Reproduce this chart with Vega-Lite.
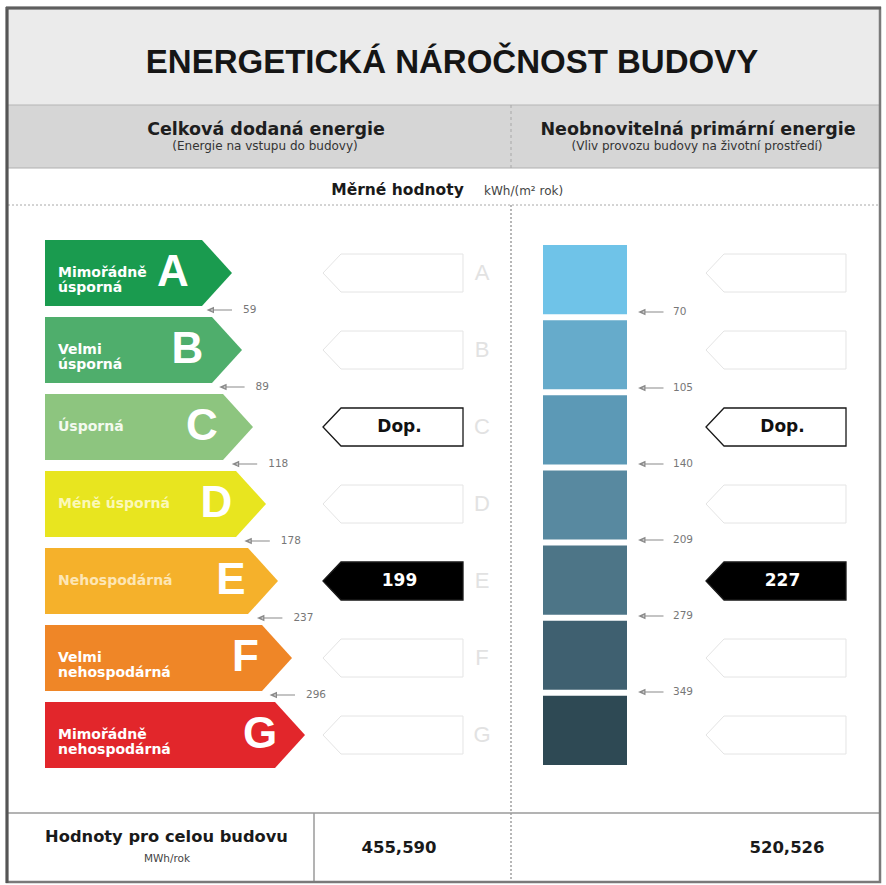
{
  "$schema": "https://vega.github.io/schema/vega-lite/v6.json",
  "width": 886,
  "height": 885,
  "padding": 0,
  "autosize": {"type": "none"},
  "background": "#ffffff",
  "config": {"view": {"stroke": null}, "axis": {"disable": true}, "legend": {"disable": true}},
  "datasets": {
    "classes": [
      {"class": "A", "label": "Mimořádně\núsporná"},
      {"class": "B", "label": "Velmi\núsporná"},
      {"class": "C", "label": "Úsporná"},
      {"class": "D", "label": "Méně úsporná"},
      {"class": "E", "label": "Nehospodárná"},
      {"class": "F", "label": "Velmi\nnehospodárná"},
      {"class": "G", "label": "Mimořádně\nnehospodárná"}
    ],
    "limits": [
      {"class": "A", "delivered": 59, "primary": 70},
      {"class": "B", "delivered": 89, "primary": 105},
      {"class": "C", "delivered": 118, "primary": 140},
      {"class": "D", "delivered": 178, "primary": 209},
      {"class": "E", "delivered": 237, "primary": 279},
      {"class": "F", "delivered": 296, "primary": 349}
    ],
    "ratings": [
      {"panel": "delivered", "class": "C", "kind": "reference", "text": "Dop."},
      {"panel": "delivered", "class": "E", "kind": "rating", "text": "199"},
      {"panel": "primary", "class": "C", "kind": "reference", "text": "Dop."},
      {"panel": "primary", "class": "E", "kind": "rating", "text": "227"}
    ],
    "totals": [
      {"panel": "delivered", "value": "455,590"},
      {"panel": "primary", "value": "520,526"}
    ]
  },
  "resolve": {"scale": {"x": "independent", "y": "independent", "color": "independent", "fill": "independent", "shape": "independent"}},
  "layer": [
    {
      "data": {"values": [{}]},
      "layer": [
        {"mark": {"type": "rect", "color": "#ebebeb"}, "encoding": {"x": {"datum": 8, "type": "quantitative", "scale": {"domain": [0, 886], "range": [0, 886], "nice": false, "zero": false}}, "x2": {"datum": 880}, "y": {"datum": 9, "type": "quantitative", "scale": {"domain": [0, 885], "range": [0, 885], "nice": false, "zero": false}}, "y2": {"datum": 105}}},
        {"mark": {"type": "rect", "color": "#d6d6d6"}, "encoding": {"x": {"datum": 8, "type": "quantitative", "scale": {"domain": [0, 886], "range": [0, 886], "nice": false, "zero": false}}, "x2": {"datum": 880}, "y": {"datum": 105, "type": "quantitative", "scale": {"domain": [0, 885], "range": [0, 885], "nice": false, "zero": false}}, "y2": {"datum": 168}}},
        {"mark": {"type": "rule", "color": "#b5b5b5", "strokeWidth": 1}, "encoding": {"x": {"datum": 8, "type": "quantitative", "scale": {"domain": [0, 886], "range": [0, 886], "nice": false, "zero": false}}, "x2": {"datum": 880}, "y": {"datum": 105, "type": "quantitative", "scale": {"domain": [0, 885], "range": [0, 885], "nice": false, "zero": false}}}},
        {"mark": {"type": "rule", "color": "#b0b0b0", "strokeWidth": 1}, "encoding": {"x": {"datum": 8, "type": "quantitative", "scale": {"domain": [0, 886], "range": [0, 886], "nice": false, "zero": false}}, "x2": {"datum": 880}, "y": {"datum": 168, "type": "quantitative", "scale": {"domain": [0, 885], "range": [0, 885], "nice": false, "zero": false}}}},
        {"mark": {"type": "rule", "color": "#a8a8a8", "strokeWidth": 1, "strokeDash": [2, 2]}, "encoding": {"x": {"datum": 8, "type": "quantitative", "scale": {"domain": [0, 886], "range": [0, 886], "nice": false, "zero": false}}, "x2": {"datum": 880}, "y": {"datum": 205, "type": "quantitative", "scale": {"domain": [0, 885], "range": [0, 885], "nice": false, "zero": false}}}},
        {"mark": {"type": "rule", "color": "#a8a8a8", "strokeWidth": 1, "strokeDash": [3, 3]}, "encoding": {"x": {"datum": 511, "type": "quantitative", "scale": {"domain": [0, 886], "range": [0, 886], "nice": false, "zero": false}}, "y": {"datum": 105, "type": "quantitative", "scale": {"domain": [0, 885], "range": [0, 885], "nice": false, "zero": false}}, "y2": {"datum": 168}}},
        {"mark": {"type": "rule", "color": "#a0a0a0", "strokeWidth": 1.5, "strokeDash": [2, 2]}, "encoding": {"x": {"datum": 511, "type": "quantitative", "scale": {"domain": [0, 886], "range": [0, 886], "nice": false, "zero": false}}, "y": {"datum": 205, "type": "quantitative", "scale": {"domain": [0, 885], "range": [0, 885], "nice": false, "zero": false}}, "y2": {"datum": 882}}},
        {"mark": {"type": "rule", "color": "#9a9a9a", "strokeWidth": 1.5}, "encoding": {"x": {"datum": 8, "type": "quantitative", "scale": {"domain": [0, 886], "range": [0, 886], "nice": false, "zero": false}}, "x2": {"datum": 880}, "y": {"datum": 813, "type": "quantitative", "scale": {"domain": [0, 885], "range": [0, 885], "nice": false, "zero": false}}}},
        {"mark": {"type": "rule", "color": "#9a9a9a", "strokeWidth": 1.5}, "encoding": {"x": {"datum": 314, "type": "quantitative", "scale": {"domain": [0, 886], "range": [0, 886], "nice": false, "zero": false}}, "y": {"datum": 813, "type": "quantitative", "scale": {"domain": [0, 885], "range": [0, 885], "nice": false, "zero": false}}, "y2": {"datum": 882}}},
        {"mark": {"type": "rect", "fillOpacity": 0, "stroke": "#7a7a7a", "strokeWidth": 2.5}, "encoding": {"x": {"datum": 7, "type": "quantitative", "scale": {"domain": [0, 886], "range": [0, 886], "nice": false, "zero": false}}, "x2": {"datum": 880}, "y": {"datum": 8, "type": "quantitative", "scale": {"domain": [0, 885], "range": [0, 885], "nice": false, "zero": false}}, "y2": {"datum": 882}}},
        {"mark": {"type": "rule", "color": "#555555", "strokeWidth": 3}, "encoding": {"x": {"datum": 7, "type": "quantitative", "scale": {"domain": [0, 886], "range": [0, 886], "nice": false, "zero": false}}, "y": {"datum": 7, "type": "quantitative", "scale": {"domain": [0, 885], "range": [0, 885], "nice": false, "zero": false}}, "y2": {"datum": 883}}},
        {"mark": {"type": "rule", "color": "#5e5e5e", "strokeWidth": 3}, "encoding": {"x": {"datum": 6, "type": "quantitative", "scale": {"domain": [0, 886], "range": [0, 886], "nice": false, "zero": false}}, "x2": {"datum": 881}, "y": {"datum": 8, "type": "quantitative", "scale": {"domain": [0, 885], "range": [0, 885], "nice": false, "zero": false}}}},
        {"mark": {"type": "text", "text": "ENERGETICKÁ NÁROČNOST BUDOVY", "font": "Liberation Sans", "fontWeight": "bold", "fontSize": 33, "align": "center", "baseline": "alphabetic", "color": "#151515"}, "encoding": {"x": {"datum": 452, "type": "quantitative", "scale": {"domain": [0, 886], "range": [0, 886], "nice": false, "zero": false}}, "y": {"datum": 73, "type": "quantitative", "scale": {"domain": [0, 885], "range": [0, 885], "nice": false, "zero": false}}}},
        {"mark": {"type": "text", "text": "Celková dodaná energie", "font": "DejaVu Sans", "fontWeight": "bold", "fontSize": 17.5, "align": "center", "baseline": "alphabetic", "color": "#1e1e1e"}, "encoding": {"x": {"datum": 266, "type": "quantitative", "scale": {"domain": [0, 886], "range": [0, 886], "nice": false, "zero": false}}, "y": {"datum": 134.5, "type": "quantitative", "scale": {"domain": [0, 885], "range": [0, 885], "nice": false, "zero": false}}}},
        {"mark": {"type": "text", "text": "(Energie na vstupu do budovy)", "font": "DejaVu Sans", "fontSize": 12, "align": "center", "baseline": "alphabetic", "color": "#333333"}, "encoding": {"x": {"datum": 265, "type": "quantitative", "scale": {"domain": [0, 886], "range": [0, 886], "nice": false, "zero": false}}, "y": {"datum": 150, "type": "quantitative", "scale": {"domain": [0, 885], "range": [0, 885], "nice": false, "zero": false}}}},
        {"mark": {"type": "text", "text": "Neobnovitelná primární energie", "font": "DejaVu Sans", "fontWeight": "bold", "fontSize": 17.5, "align": "center", "baseline": "alphabetic", "color": "#1e1e1e"}, "encoding": {"x": {"datum": 698, "type": "quantitative", "scale": {"domain": [0, 886], "range": [0, 886], "nice": false, "zero": false}}, "y": {"datum": 134.5, "type": "quantitative", "scale": {"domain": [0, 885], "range": [0, 885], "nice": false, "zero": false}}}},
        {"mark": {"type": "text", "text": "(Vliv provozu budovy na životní prostředí)", "font": "DejaVu Sans", "fontSize": 12, "align": "center", "baseline": "alphabetic", "color": "#333333"}, "encoding": {"x": {"datum": 697, "type": "quantitative", "scale": {"domain": [0, 886], "range": [0, 886], "nice": false, "zero": false}}, "y": {"datum": 150, "type": "quantitative", "scale": {"domain": [0, 885], "range": [0, 885], "nice": false, "zero": false}}}},
        {"mark": {"type": "text", "text": "Měrné hodnoty", "font": "DejaVu Sans", "fontWeight": "bold", "fontSize": 15.5, "align": "center", "baseline": "alphabetic", "color": "#1a1a1a"}, "encoding": {"x": {"datum": 397.5, "type": "quantitative", "scale": {"domain": [0, 886], "range": [0, 886], "nice": false, "zero": false}}, "y": {"datum": 195, "type": "quantitative", "scale": {"domain": [0, 885], "range": [0, 885], "nice": false, "zero": false}}}},
        {"mark": {"type": "text", "text": "kWh/(m² rok)", "font": "DejaVu Sans", "fontSize": 12, "align": "left", "baseline": "alphabetic", "color": "#444444"}, "encoding": {"x": {"datum": 484, "type": "quantitative", "scale": {"domain": [0, 886], "range": [0, 886], "nice": false, "zero": false}}, "y": {"datum": 194.5, "type": "quantitative", "scale": {"domain": [0, 885], "range": [0, 885], "nice": false, "zero": false}}}},
        {"mark": {"type": "text", "text": "Hodnoty pro celou budovu", "font": "DejaVu Sans", "fontWeight": "bold", "fontSize": 16.3, "align": "center", "baseline": "alphabetic", "color": "#1a1a1a"}, "encoding": {"x": {"datum": 166.5, "type": "quantitative", "scale": {"domain": [0, 886], "range": [0, 886], "nice": false, "zero": false}}, "y": {"datum": 842, "type": "quantitative", "scale": {"domain": [0, 885], "range": [0, 885], "nice": false, "zero": false}}}},
        {"mark": {"type": "text", "text": "MWh/rok", "font": "DejaVu Sans", "fontSize": 10.5, "align": "center", "baseline": "alphabetic", "color": "#444444"}, "encoding": {"x": {"datum": 167, "type": "quantitative", "scale": {"domain": [0, 886], "range": [0, 886], "nice": false, "zero": false}}, "y": {"datum": 861.5, "type": "quantitative", "scale": {"domain": [0, 885], "range": [0, 885], "nice": false, "zero": false}}}}
      ]
    },
    {
      "data": {"name": "classes"},
      "layer": [
        {
          "mark": {"type": "point", "filled": true, "opacity": 1, "size": 4356, "strokeWidth": 0},
          "encoding": {
            "x": {"datum": 138, "type": "quantitative", "scale": {"domain": [0, 886], "range": [0, 886], "nice": false, "zero": false}},
            "y": {"field": "class", "type": "nominal", "scale": {"type": "point", "domain": ["A", "B", "C", "D", "E", "F", "G"], "range": [273, 735], "padding": 0}},
            "shape": {"field": "class", "type": "nominal", "scale": {"domain": ["A", "B", "C", "D", "E", "F", "G"], "range": [
              "M-2.818,-1L1.939,-1L2.848,0L1.939,1L-2.818,1Z",
              "M-2.818,-1L2.242,-1L3.152,0L2.242,1L-2.818,1Z",
              "M-2.818,-1L2.576,-1L3.485,0L2.576,1L-2.818,1Z",
              "M-2.818,-1L2.970,-1L3.879,0L2.970,1L-2.818,1Z",
              "M-2.818,-1L3.333,-1L4.242,0L3.333,1L-2.818,1Z",
              "M-2.818,-1L3.758,-1L4.667,0L3.758,1L-2.818,1Z",
              "M-2.818,-1L4.152,-1L5.061,0L4.152,1L-2.818,1Z"
            ]}},
            "fill": {"field": "class", "type": "nominal", "scale": {"domain": ["A", "B", "C", "D", "E", "F", "G"], "range": ["#1a9b4f", "#4fae6c", "#8dc57f", "#e8e51f", "#f5b12b", "#ef8627", "#e2262b"]}}
          }
        },
        {
          "mark": {"type": "text", "align": "left", "baseline": "middle", "font": "DejaVu Sans", "fontWeight": "bold", "fontSize": 14, "lineBreak": "\n", "lineHeight": 15},
          "encoding": {
            "x": {"datum": 58, "type": "quantitative", "scale": {"domain": [0, 886], "range": [0, 886], "nice": false, "zero": false}},
            "y": {"field": "class", "type": "nominal", "scale": {"type": "point", "domain": ["A", "B", "C", "D", "E", "F", "G"], "range": [273, 735], "padding": 0}},
            "text": {"field": "label"},
            "color": {"field": "class", "type": "nominal", "scale": {"domain": ["A", "B", "C", "D", "E", "F", "G"], "range": ["#ffffff", "#ffffff", "#f4faef", "#fbf8b8", "#fde6b5", "#ffffff", "#ffffff"]}}
          }
        },
        {
          "mark": {"type": "point", "filled": true, "opacity": 1, "size": 1444, "shape": "M-3.684,0L-2.737,-1L3.684,-1L3.684,1L-2.737,1Z", "fill": "#ffffff", "stroke": "#e4e4e4", "strokeWidth": 1},
          "encoding": {
            "x": {"datum": 393, "type": "quantitative", "scale": {"domain": [0, 886], "range": [0, 886], "nice": false, "zero": false}},
            "y": {"field": "class", "type": "nominal", "scale": {"type": "point", "domain": ["A", "B", "C", "D", "E", "F", "G"], "range": [273, 735], "padding": 0}}
          }
        },
        {
          "mark": {"type": "point", "filled": true, "opacity": 1, "size": 1444, "shape": "M-3.684,0L-2.737,-1L3.684,-1L3.684,1L-2.737,1Z", "fill": "#ffffff", "stroke": "#e4e4e4", "strokeWidth": 1},
          "encoding": {
            "x": {"datum": 776, "type": "quantitative", "scale": {"domain": [0, 886], "range": [0, 886], "nice": false, "zero": false}},
            "y": {"field": "class", "type": "nominal", "scale": {"type": "point", "domain": ["A", "B", "C", "D", "E", "F", "G"], "range": [273, 735], "padding": 0}}
          }
        },
        {
          "mark": {"type": "text", "align": "center", "baseline": "middle", "font": "Liberation Sans", "fontSize": 22, "color": "#e2e2e2"},
          "encoding": {
            "x": {"datum": 482, "type": "quantitative", "scale": {"domain": [0, 886], "range": [0, 886], "nice": false, "zero": false}},
            "y": {"field": "class", "type": "nominal", "scale": {"type": "point", "domain": ["A", "B", "C", "D", "E", "F", "G"], "range": [273, 735], "padding": 0}},
            "text": {"field": "class"}
          }
        }
      ]
    },
    {
      "data": {"name": "classes"},
      "mark": {"type": "text", "align": "center", "baseline": "middle", "font": "Liberation Sans", "fontWeight": "bold", "fontSize": 44, "color": "#ffffff"},
      "encoding": {
        "x": {"field": "class", "type": "nominal", "scale": {"type": "point", "domain": ["A", "B", "C", "D", "E", "F", "G"], "range": [173, 260], "padding": 0}},
        "y": {"field": "class", "type": "nominal", "scale": {"type": "point", "domain": ["A", "B", "C", "D", "E", "F", "G"], "range": [273, 735], "padding": 0}},
        "text": {"field": "class"}
      }
    },
    {
      "data": {"name": "limits"},
      "layer": [
        {
          "mark": {"type": "point", "filled": false, "opacity": 1, "size": 576, "shape": "M-1,0L1,0M-1,0L-0.55,-0.2L-0.55,0.2Z", "stroke": "#8a8a8a", "strokeWidth": 1.2, "xOffset": -12},
          "encoding": {
            "x": {"field": "class", "type": "nominal", "scale": {"type": "point", "domain": ["A", "B", "C", "D", "E", "F"], "range": [232, 295], "padding": 0}},
            "y": {"field": "class", "type": "nominal", "scale": {"type": "point", "domain": ["A", "B", "C", "D", "E", "F"], "range": [310, 695], "padding": 0}}
          }
        },
        {
          "mark": {"type": "text", "align": "left", "baseline": "middle", "font": "DejaVu Sans", "fontSize": 10.5, "color": "#777777", "xOffset": 11},
          "encoding": {
            "x": {"field": "class", "type": "nominal", "scale": {"type": "point", "domain": ["A", "B", "C", "D", "E", "F"], "range": [232, 295], "padding": 0}},
            "y": {"field": "class", "type": "nominal", "scale": {"type": "point", "domain": ["A", "B", "C", "D", "E", "F"], "range": [310, 695], "padding": 0}},
            "text": {"field": "delivered"}
          }
        }
      ]
    },
    {
      "data": {"name": "limits"},
      "layer": [
        {
          "mark": {"type": "point", "filled": false, "opacity": 1, "size": 576, "shape": "M-1,0L1,0M-1,0L-0.55,-0.2L-0.55,0.2Z", "stroke": "#8a8a8a", "strokeWidth": 1.2},
          "encoding": {
            "x": {"datum": 651.5, "type": "quantitative", "scale": {"domain": [0, 886], "range": [0, 886], "nice": false, "zero": false}},
            "y": {"field": "class", "type": "nominal", "scale": {"type": "point", "domain": ["A", "B", "C", "D", "E", "F"], "range": [312, 692], "padding": 0}}
          }
        },
        {
          "mark": {"type": "text", "align": "left", "baseline": "middle", "font": "DejaVu Sans", "fontSize": 10.5, "color": "#777777"},
          "encoding": {
            "x": {"datum": 673, "type": "quantitative", "scale": {"domain": [0, 886], "range": [0, 886], "nice": false, "zero": false}},
            "y": {"field": "class", "type": "nominal", "scale": {"type": "point", "domain": ["A", "B", "C", "D", "E", "F"], "range": [312, 692], "padding": 0}},
            "text": {"field": "primary"}
          }
        }
      ]
    },
    {
      "data": {"name": "classes"},
      "mark": {"type": "rect"},
      "encoding": {
        "x": {"datum": 543, "type": "quantitative", "scale": {"domain": [0, 886], "range": [0, 886], "nice": false, "zero": false}},
        "x2": {"datum": 627},
        "y": {"field": "class", "type": "nominal", "scale": {"type": "band", "domain": ["A", "B", "C", "D", "E", "F", "G"], "range": [245, 765], "paddingInner": 0.08, "paddingOuter": 0}},
        "color": {"field": "class", "type": "nominal", "scale": {"domain": ["A", "B", "C", "D", "E", "F", "G"], "range": ["#6fc3e8", "#66abcb", "#5c99b6", "#5889a0", "#4d7587", "#3f6070", "#2e4954"]}}
      }
    },
    {
      "data": {"name": "ratings"},
      "layer": [
        {
          "mark": {"type": "point", "filled": true, "opacity": 1, "size": 1444, "shape": "M-3.684,0L-2.737,-1L3.684,-1L3.684,1L-2.737,1Z", "stroke": "#1a1a1a", "strokeWidth": 1.3},
          "encoding": {
            "x": {"field": "panel", "type": "nominal", "scale": {"type": "point", "domain": ["delivered", "primary"], "range": [393, 776], "padding": 0}},
            "y": {"field": "class", "type": "nominal", "scale": {"type": "point", "domain": ["A", "B", "C", "D", "E", "F", "G"], "range": [273, 735], "padding": 0}},
            "fill": {"field": "kind", "type": "nominal", "scale": {"domain": ["reference", "rating"], "range": ["#ffffff", "#000000"]}}
          }
        },
        {
          "mark": {"type": "text", "align": "center", "baseline": "middle", "font": "DejaVu Sans", "fontWeight": "bold", "fontSize": 17, "xOffset": 6.5},
          "encoding": {
            "x": {"field": "panel", "type": "nominal", "scale": {"type": "point", "domain": ["delivered", "primary"], "range": [393, 776], "padding": 0}},
            "y": {"field": "class", "type": "nominal", "scale": {"type": "point", "domain": ["A", "B", "C", "D", "E", "F", "G"], "range": [273, 735], "padding": 0}},
            "text": {"field": "text"},
            "color": {"field": "kind", "type": "nominal", "scale": {"domain": ["reference", "rating"], "range": ["#111111", "#ffffff"]}}
          }
        }
      ]
    },
    {
      "data": {"name": "totals"},
      "mark": {"type": "text", "align": "center", "baseline": "alphabetic", "font": "DejaVu Sans", "fontWeight": "bold", "fontSize": 16.5, "color": "#1a1a1a"},
      "encoding": {
        "x": {"field": "panel", "type": "nominal", "scale": {"type": "point", "domain": ["delivered", "primary"], "range": [399, 787], "padding": 0}},
        "y": {"datum": 853, "type": "quantitative", "scale": {"domain": [0, 885], "range": [0, 885], "nice": false, "zero": false}},
        "text": {"field": "value"}
      }
    }
  ]
}
